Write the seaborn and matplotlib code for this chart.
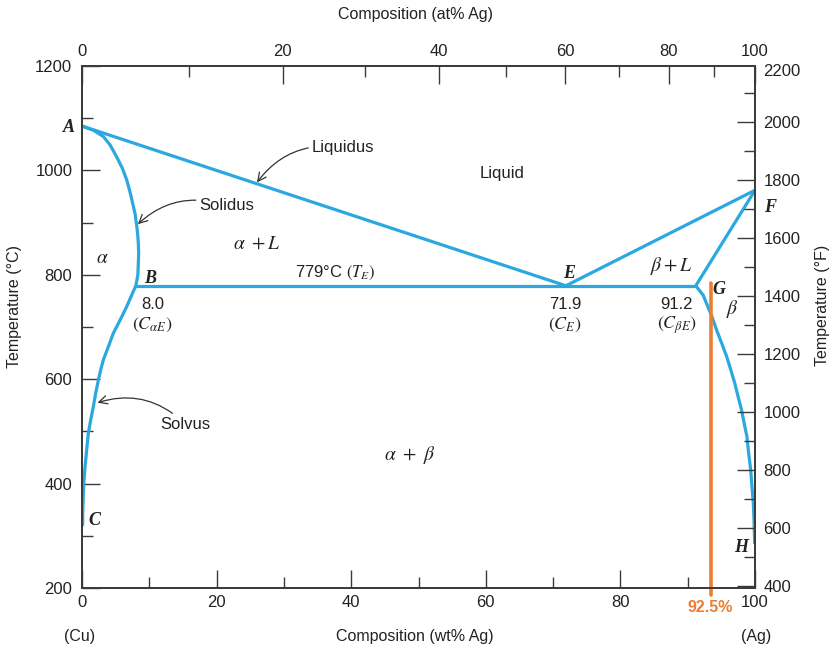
import numpy as np
import pandas as pd
import matplotlib
matplotlib.use("Agg")
import matplotlib.pyplot as plt
import seaborn as sns
from matplotlib.ticker import FixedLocator, NullFormatter

# ---------------- data ----------------
liquidus_a_wt = [0.0, 71.9]
liquidus_a_T = [1085, 779]
liquidus_b_wt = [71.9, 100.0]
liquidus_b_T = [779, 962]
solidus_a_wt = [0.0, 1.68, 3.17, 4.16, 5.15, 6.0, 6.64, 7.13, 7.53, 7.88, 8.12,
                8.27, 8.37, 8.42, 8.37, 8.3, 8.0]
solidus_a_T = [1085, 1077, 1065, 1049, 1026, 1004, 982, 959, 937, 917, 895,
               878, 860, 841, 822, 800, 779]
solvus_a_wt = [8.0, 7.38, 6.64, 5.65, 4.65, 3.91, 3.17, 2.78, 2.43, 2.03, 1.68,
               1.29, 0.94, 0.69, 0.45, 0.30, 0.2, 0.1, 0.1]
solvus_a_T = [779, 761, 739, 713, 688, 662, 637, 618, 598, 573, 547,
              522, 496, 464, 432, 407, 381, 343, 321]
eutectic_wt = [8.0, 91.2]
eutectic_T = [779, 779]
solidus_b_wt = [100.0, 91.2]
solidus_b_T = [962, 779]
solvus_b_wt = [91.2, 92.3, 92.8, 93.6, 94.3, 95.05, 95.8, 96.4, 97.0, 97.5, 98.0,
               98.4, 98.8, 99.06, 99.36, 99.55, 99.75, 99.85, 99.95]
solvus_b_T = [779, 761, 745, 720, 694, 669, 643, 618, 592, 566, 541,
              515, 490, 458, 426, 394, 362, 330, 286]
alloy_wt = [93.4, 93.4]
alloy_T = [784, 187]
alloy_label = "92.5%"

bottom_major = [0, 20, 40, 60, 80, 100]
bottom_minor = [10, 30, 50, 70, 90]
top_major = [0, 20, 40, 60, 80, 100]
top_minor = [10, 30, 50, 70, 90]
left_major = [200, 400, 600, 800, 1000, 1200]
left_minor = [300, 500, 700, 900, 1100]
right_major = [400, 600, 800, 1000, 1200, 1400, 1600, 1800, 2000]
right_minor = [500, 700, 900, 1100, 1300, 1500, 1700, 1900, 2100]

M_AG, M_CU = 107.87, 63.55


def at2wt(a):
    a = np.asarray(a, dtype=float)
    return 100 * a * M_AG / (a * M_AG + (100 - a) * M_CU)


def c2f(c):
    return c * 9 / 5 + 32


BLUE = "#2AA8DF"
ORANGE = "#ED7D31"
INK = "#222222"
AXC = "#3a3a3a"

sns.set_style("white")
plt.rcParams["font.family"] = ["Liberation Sans", "DejaVu Sans"]
plt.rcParams["mathtext.fontset"] = "stix"

W, H = 835, 649
fig = plt.figure(figsize=(W / 100, H / 100), dpi=100)
L, R, T, B = 82, 755, 66, 588
ax = fig.add_axes([L / W, 1 - B / H, (R - L) / W, (B - T) / H])


def px(x, y):
    return x / W, 1 - y / H


curves = [
    (liquidus_a_wt, liquidus_a_T),
    (liquidus_b_wt, liquidus_b_T),
    (solidus_a_wt, solidus_a_T),
    (solvus_a_wt, solvus_a_T),
    (eutectic_wt, eutectic_T),
    (solidus_b_wt, solidus_b_T),
    (solvus_b_wt, solvus_b_T),
]
for xs, ys in curves:
    df = pd.DataFrame({"wt": xs, "T": ys})
    sns.lineplot(data=df, x="wt", y="T", ax=ax, sort=False, estimator=None,
                 color=BLUE, lw=2.3, solid_joinstyle="round", solid_capstyle="round")

dfa = pd.DataFrame({"wt": alloy_wt, "T": alloy_T})
sns.lineplot(data=dfa, x="wt", y="T", ax=ax, sort=False, estimator=None,
             color=ORANGE, lw=2.6, clip_on=False, zorder=5)
ax.text(alloy_wt[0], 163, alloy_label, color=ORANGE, fontsize=11.5,
        ha="center", va="center", fontweight="bold")

ax.set_xlim(0, 100)
ax.set_ylim(200, 1200)
ax.set_xlabel("")
ax.set_ylabel("")

tick_kw = dict(direction="in", color=AXC, width=1.0, labelsize=12, labelcolor=INK)
ax.xaxis.set_major_locator(FixedLocator(bottom_major))
ax.xaxis.set_minor_locator(FixedLocator(bottom_minor))
ax.yaxis.set_major_locator(FixedLocator(left_major))
ax.yaxis.set_minor_locator(FixedLocator(left_minor))
ax.tick_params(axis="x", which="major", length=13, pad=5, bottom=True, top=False, **tick_kw)
ax.tick_params(axis="x", which="minor", length=8, bottom=True, top=False, **tick_kw)
ax.tick_params(axis="y", which="major", length=13, pad=7, left=True, right=False, **tick_kw)
ax.tick_params(axis="y", which="minor", length=8, left=True, right=False, **tick_kw)
ax.xaxis.set_minor_formatter(NullFormatter())
ax.yaxis.set_minor_formatter(NullFormatter())

for s in ax.spines.values():
    s.set_color(AXC)
    s.set_linewidth(1.1)

# top axis (at% Ag)
axt = ax.twiny()
axt.set_xlim(0, 100)
axt.xaxis.set_major_locator(FixedLocator(list(at2wt(top_major))))
axt.xaxis.set_minor_locator(FixedLocator(list(at2wt(top_minor))))
axt.set_xticklabels([str(v) for v in top_major])
axt.tick_params(axis="x", which="major", length=13, pad=5, **tick_kw)
axt.tick_params(axis="x", which="minor", length=8, **tick_kw)
axt.xaxis.set_minor_formatter(NullFormatter())

# right axis (deg F)
axr = ax.twinx()
axr.set_ylim(c2f(200), c2f(1200))
axr.yaxis.set_major_locator(FixedLocator(right_major))
axr.yaxis.set_minor_locator(FixedLocator(right_minor))
axr.tick_params(axis="y", which="major", length=13, pad=6, **tick_kw)
axr.tick_params(axis="y", which="minor", length=8, **tick_kw)
axr.yaxis.set_minor_formatter(NullFormatter())
axr.text(1.0 + 8 / (R - L), 1.0 - 6 / (B - T), "2200", transform=axr.transAxes,
         fontsize=12, color=INK, ha="left", va="center")
for a in (axt, axr):
    for s in a.spines.values():
        s.set_color(AXC)
        s.set_linewidth(1.1)

# point letters
letter_kw = dict(family=["Liberation Serif", "DejaVu Serif"], style="italic",
                 weight="bold", fontsize=13, color=INK, ha="center", va="center")
for lab, x, y in [("A", -1.9, 1083), ("B", 10.1, 792), ("C", 1.9, 330),
                  ("E", 72.4, 803), ("F", 102.2, 928), ("G", 94.65, 771),
                  ("H", 98.0, 277)]:
    ax.text(x, y, lab, clip_on=False, **letter_kw)

math_kw = dict(fontsize=14, color=INK, ha="center", va="center")
ax.text(3.05, 832, r"$\alpha$", **math_kw)
ax.text(25.9, 859, r"$\alpha\ + L$", **math_kw)
ax.text(87.5, 817, r"$\beta + L$", **math_kw)
ax.text(96.7, 734, r"$\beta$", **math_kw)
ax.text(48.7, 455, r"$\alpha\ +\ \beta$", **math_kw)
ax.text(37.6, 803, r"779°C $(T_E)$", fontsize=12, color=INK, ha="center", va="center")
ax.text(62.4, 995, "Liquid", fontsize=12, color=INK, ha="center", va="center")

for x, num, sub in [(10.5, "8.0", r"$(C_{\alpha E})$"), (71.8, "71.9", r"$(C_E)$"),
                    (88.4, "91.2", r"$(C_{\beta E})$")]:
    ax.text(x, 744, num, fontsize=12, color=INK, ha="center", va="center")
    ax.text(x, 704, sub, fontsize=13, color=INK, ha="center", va="center")

arrow_kw = dict(arrowstyle="->,head_length=0.5,head_width=0.25", color="#333333", lw=0.9,
                shrinkA=0, shrinkB=0)
ax.annotate("Liquidus", xy=(26.0, 977), xytext=(34.1, 1044), fontsize=12, color=INK,
            ha="left", va="center",
            arrowprops=dict(connectionstyle="arc3,rad=0.3", **arrow_kw))
ax.annotate("Solidus", xy=(8.3, 897), xytext=(17.4, 932), fontsize=12, color=INK,
            ha="left", va="center",
            arrowprops=dict(connectionstyle="arc3,rad=0.3", **arrow_kw))
ax.annotate("Solvus", xy=(2.3, 555), xytext=(11.6, 514), fontsize=12, color=INK,
            ha="left", va="center",
            arrowprops=dict(connectionstyle="arc3,rad=0.3", **arrow_kw))

# axis titles
fig.text(*px(416, 15), "Composition (at% Ag)", fontsize=11.5, color=INK, ha="center", va="center")
fig.text(*px(415, 636), "Composition (wt% Ag)", fontsize=11.5, color=INK, ha="center", va="center")
fig.text(*px(80, 636), "(Cu)", fontsize=11.5, color=INK, ha="center", va="center")
fig.text(*px(756, 636), "(Ag)", fontsize=11.5, color=INK, ha="center", va="center")
fig.text(*px(15, 306), "Temperature (°C)", fontsize=11.5, color=INK, ha="center",
         va="center", rotation=90)
fig.text(*px(823, 305), "Temperature (°F)", fontsize=11.5, color=INK, ha="center",
         va="center", rotation=90)

fig.savefig("out.png", dpi=100, facecolor="white")
